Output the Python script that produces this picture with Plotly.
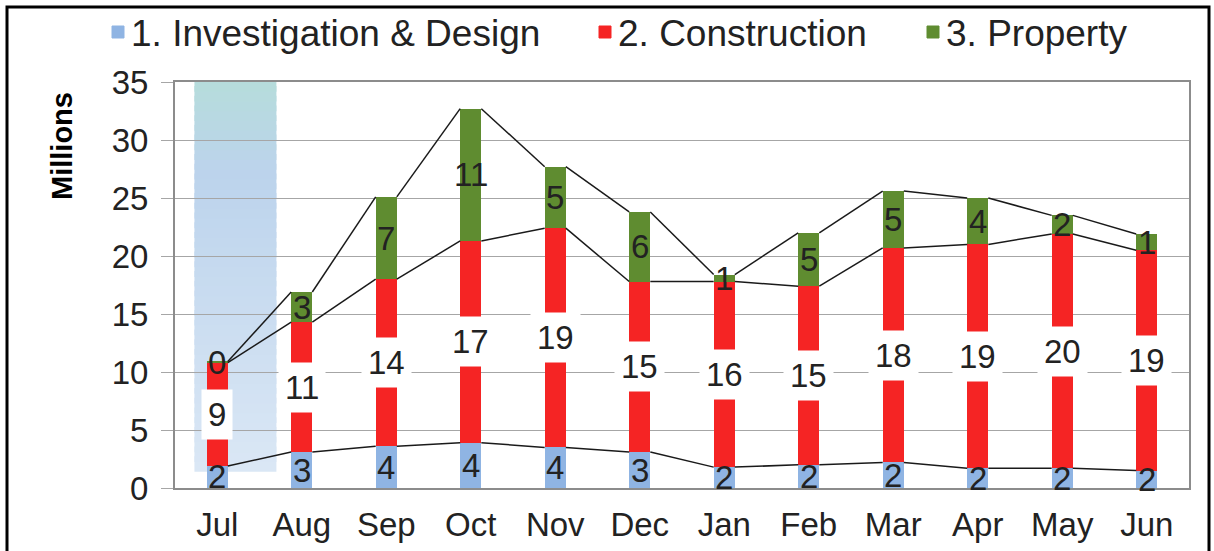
import plotly.graph_objects as go

# monthly spend, millions
months = ["Jul", "Aug", "Sep", "Oct", "Nov", "Dec", "Jan", "Feb", "Mar", "Apr", "May", "Jun"]
investigation = [1.9, 3.1, 3.6, 3.9, 3.5, 3.1, 1.8, 2.0, 2.2, 1.7, 1.7, 1.5]
construction = [8.9, 11.2, 14.4, 17.4, 18.9, 14.7, 16.0, 15.4, 18.5, 19.3, 20.2, 19.0]
property_ = [0.1, 2.6, 7.1, 11.4, 5.3, 6.0, 0.6, 4.6, 4.9, 4.0, 1.6, 1.4]

series_names = ["1. Investigation & Design", "2. Construction", "3. Property"]
colors = ["#8fb4e3", "#f52424", "#5f8c30"]

W, H = 1214, 551
ML, MR, MT, MB = 175, 25, 82, 63
BAR_W = 0.25
FONT = "Liberation Sans, Arial, sans-serif"
# legend key positions along the top (px)
LEGEND_X = [118, 605, 933]
LEGEND_Y = 33


def px_x(p):
    return (p - ML) / (W - ML - MR)


def px_y(p):
    return (H - MB - p) / (H - MT - MB)


xs = list(range(len(months)))
data = [investigation, construction, property_]

fig = go.Figure()
for name, vals, c in zip(series_names, data, colors):
    fig.add_trace(go.Bar(x=xs, y=vals, name=name, width=BAR_W,
                         marker=dict(color=c, line=dict(width=0))))

# series lines joining the segment tops
tops = []
run = [0.0] * len(months)
for vals in data:
    run = [a + b for a, b in zip(run, vals)]
    tops.append(run)
for t in tops:
    lx, ly = [], []
    for i in range(len(months) - 1):
        lx += [i + BAR_W / 2, i + 1 - BAR_W / 2, None]
        ly += [t[i], t[i + 1], None]
    fig.add_trace(go.Scatter(x=lx, y=ly, mode="lines", showlegend=False, hoverinfo="skip",
                             line=dict(color="#1a1a1a", width=1.5)))

# value labels
annotations = []
base = [0.0] * len(months)
for k, vals in enumerate(data):
    for i, v in enumerate(vals):
        a = dict(x=i, y=base[i] + v / 2, text=f"{round(v):.0f}", showarrow=False,
                 font=dict(size=33, color="#222", family=FONT))
        if k == 1:
            a.update(bgcolor="white", borderpad=6)
        annotations.append(a)
    base = [b + v for b, v in zip(base, vals)]

annotations.append(dict(text="<b>Millions</b>", textangle=-90, showarrow=False,
                        xref="paper", yref="paper", x=px_x(62), y=px_y(146),
                        xanchor="center", yanchor="middle",
                        font=dict(size=29, color="black", family=FONT)))

shapes = []

# legend row
for name, c, lx in zip(series_names, colors, LEGEND_X):
    shapes.append(dict(type="rect", xref="paper", yref="paper",
                       x0=px_x(lx - 6), x1=px_x(lx + 6), y0=px_y(LEGEND_Y + 5), y1=px_y(LEGEND_Y - 7),
                       fillcolor=c, line=dict(color=c, width=1)))
    annotations.append(dict(text=name, showarrow=False, xref="paper", yref="paper",
                            x=px_x(lx + 11), y=px_y(LEGEND_Y), xanchor="left", yanchor="middle",
                            font=dict(size=37, color="#222", family=FONT)))

# highlighted first month (vertical gradient made of strips)
hx0, hx1, hy0, hy1 = -0.27, 0.70, 1.4, 35
stops = [(0.0, (218, 231, 245)), (0.78, (188, 211, 236)), (1.0, (182, 220, 220))]


def grad(f):
    for (f0, c0), (f1, c1) in zip(stops, stops[1:]):
        if f <= f1:
            u = (f - f0) / (f1 - f0)
            return tuple(round(c0[j] + (c1[j] - c0[j]) * u) for j in range(3))
    return stops[-1][1]


n = 40
for s in range(n):
    col = grad(s / (n - 1))
    y0 = hy0 + (hy1 - hy0) * s / n
    y1 = min(hy1, hy0 + (hy1 - hy0) * (s + 1.6) / n)
    shapes.append(dict(type="rect", layer="below", x0=hx0, x1=hx1, y0=y0, y1=y1,
                       fillcolor="rgb(%d,%d,%d)" % col, line=dict(width=0)))

# outer frame
shapes.append(dict(type="rect", xref="paper", yref="paper",
                   x0=px_x(7), x1=px_x(1209), y0=px_y(570), y1=px_y(7),
                   line=dict(color="black", width=3)))

fig.update_layout(
    width=W, height=H,
    barmode="stack",
    showlegend=False,
    margin=dict(l=ML, r=MR, t=MT, b=MB, autoexpand=False),
    paper_bgcolor="white", plot_bgcolor="white",
    font=dict(family=FONT, color="#222"),
    annotations=annotations,
    shapes=shapes,
    xaxis=dict(range=[-0.5, len(months) - 0.5], tickvals=xs, ticktext=months,
               showgrid=False, showline=True, linecolor="#8c8c8c", linewidth=2, mirror=True,
               ticks="", ticklabelstandoff=6, tickfont=dict(size=33, color="#222")),
    yaxis=dict(range=[0, 35], dtick=5, showgrid=True, gridcolor="#a6a6a6", gridwidth=1,
               showline=True, linecolor="#8c8c8c", linewidth=2, mirror=True,
               ticks="outside", ticklen=12, tickcolor="#a6a6a6",
               ticklabelstandoff=6, tickfont=dict(size=33, color="#222"), zeroline=False),
)

# drop the page's default body margin so the chart sits at the window's corner
fig.write_html("out.html", config={"displayModeBar": False},
               post_script="document.body.style.margin='0';")
